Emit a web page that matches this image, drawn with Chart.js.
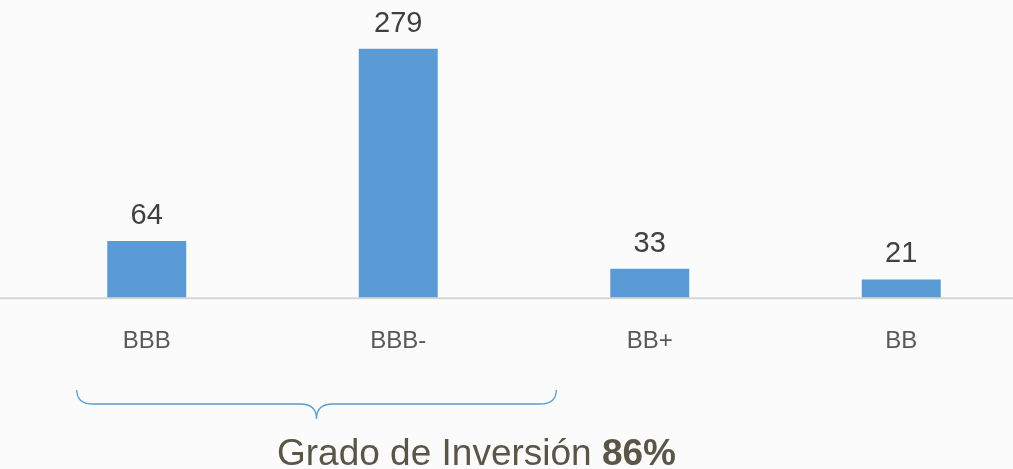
<!DOCTYPE html>
<html>
<head>
<meta charset="utf-8">
<script src="https://cdn.jsdelivr.net/npm/chart.js@4/dist/chart.umd.min.js"></script>
<style>
  html, body { margin: 0; padding: 0; background: #fbfbfb; overflow: hidden; }
  #wrap { position: relative; width: 1040px; height: 469px; }
  #title {
    position: absolute; left: 0; width: 953px; top: 433px;
    text-align: center; font-family: "Liberation Sans", Arial, sans-serif;
    font-size: 37px; color: #5a5547; line-height: 40px;
  }
</style>
</head>
<body>
<div id="wrap">
  <canvas id="chart" width="1040" height="469"></canvas>
  <div id="title">Grado de Inversión <b>86%</b></div>
</div>
<script>
const ratings = ['BBB', 'BBB-', 'BB+', 'BB'];
const amounts = [64, 279, 33, 21];

const barColor = '#5b9bd5';

// value labels above bars + baseline across the page + brace under investment grade
const extras = {
  id: 'extras',
  afterDatasetsDraw(chart) {
    const ctx = chart.ctx;
    const meta = chart.getDatasetMeta(0);
    const yScale = chart.scales.y;
    const base = yScale.getPixelForValue(0);

    ctx.save();
    ctx.strokeStyle = '#d6d6d6';
    ctx.lineWidth = 2;
    ctx.beginPath();
    ctx.moveTo(0, base);
    ctx.lineTo(1013, base);
    ctx.stroke();

    ctx.fillStyle = '#404040';
    ctx.font = '29px "Liberation Sans", Arial, sans-serif';
    ctx.textAlign = 'center';
    ctx.textBaseline = 'alphabetic';
    meta.data.forEach((bar, i) => {
      ctx.fillText(String(amounts[i]), bar.x, bar.y - 17);
    });

    // brace spanning the first two categories
    const x0 = meta.data[0].x - 70;
    const x1 = meta.data[1].x + 158;
    const mid = (x0 + x1) / 2;
    const top = 390, line = 404, tip = 419;
    ctx.strokeStyle = barColor;
    ctx.lineWidth = 1.3;
    ctx.beginPath();
    ctx.moveTo(x0, top);
    ctx.quadraticCurveTo(x0, line, x0 + 16, line);
    ctx.lineTo(mid - 16, line);
    ctx.quadraticCurveTo(mid, line, mid, tip);
    ctx.quadraticCurveTo(mid, line, mid + 16, line);
    ctx.lineTo(x1 - 16, line);
    ctx.quadraticCurveTo(x1, line, x1, top);
    ctx.stroke();
    ctx.restore();
  }
};

new Chart(document.getElementById('chart'), {
  type: 'bar',
  data: {
    labels: ratings,
    datasets: [{
      data: amounts,
      backgroundColor: barColor,
      borderWidth: 0,
      categoryPercentage: 1,
      barPercentage: 0.314
    }]
  },
  options: {
    responsive: false,
    animation: false,
    layout: { padding: { left: 21, right: 13, top: 30, bottom: 84 } },
    plugins: { legend: { display: false }, tooltip: { enabled: false } },
    scales: {
      x: {
        grid: { display: false, drawTicks: false },
        border: { display: false },
        ticks: {
          padding: 29,
          color: '#595959',
          font: { family: '"Liberation Sans", Arial, sans-serif', size: 24 }
        }
      },
      y: { display: false, min: 0, max: 300 }
    }
  },
  plugins: [extras]
});
</script>
</body>
</html>
